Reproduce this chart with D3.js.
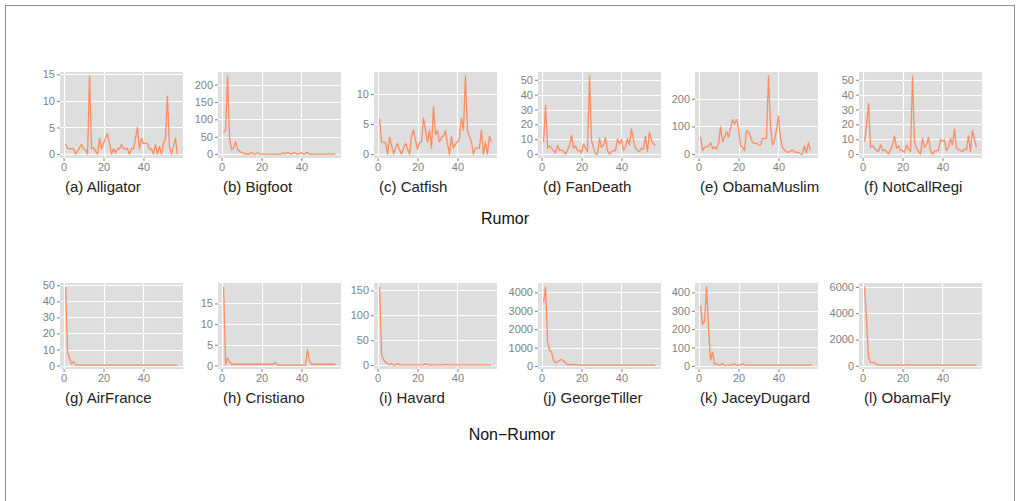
<!DOCTYPE html>
<html>
<head>
<meta charset="utf-8">
<script src="https://cdn.jsdelivr.net/npm/d3@7"></script>
<style>
  body { margin: 0; background: #fff; }
  svg { display: block; }
</style>
</head>
<body>
<svg id="chart" width="1017" height="501"></svg>
<script>
// ---- Data: daily tweet volume per story (day 1 .. n) ----
const rumorNames = ["(a) Alligator", "(b) Bigfoot", "(c) Catfish", "(d) FanDeath", "(e) ObamaMuslim", "(f) NotCallRegi"];
const nonRumorNames = ["(g) AirFrance", "(h) Cristiano", "(i) Havard", "(j) GeorgeTiller", "(k) JaceyDugard", "(l) ObamaFly"];
const groupTitles = ["Rumor", "Non\u2212Rumor"];
const xTicks = [0, 20, 40];
const rumorTickStep = [5, 50, 5, 10, 100, 10];
const nonRumorTickStep = [10, 5, 50, 1000, 100, 2000];
const dayRange = [1, 57];

const alligator = [1.9,1.1,1,1,1, 0,0.6,1.2,1.8,1, 0.8,0,14.7,1,1.2, 0.5,0,3,1,2, 3,3.8,2,0,1, 0.2,1,1,1.8,1, 1,1,0,1,1, 3,5,1,3,2, 2,2,1,1,0, 1.8,0,1.4,0,2, 3,10.9,1.5,0,1.5, 3,0];
const bigfoot = [61,69,225,45,12, 17,36,14,8,5, 3,0,1,0,5, 0,0,4,0,0, 0,0,0,0,0, 0,0,0,0,0, 4,0,5,2,0, 4,3,0,2,4, 0,2,5,0,0, 0,0,0,0,0, 0,0,0,0,0, 0,0];
const catfish = [5.9,2,2,2,0, 2.8,1.5,0,1,1.8, 0.7,0,1,1.8,0.8, 0,3,4,2.3,0.8, 2,2,6,4,2, 4,1,7.9,3.2,3.9, 2,2.8,3,3.9,1.7, 0,2.9,1,1.7,2, 2.6,6,4,13,4, 2.9,2,0,1,1, 1,4,0,2,0, 3,2];
const fanDeath = [8,33,4,5.5,4, 2.4,0.7,6,2.4,2.8, 1.7,0,2.8,6,12.7, 4,5.5,2.4,2.4,0.7, 6.8,4,1.7,52.6,9.4, 4,0,0,10.5,4.6, 6,11,2.4,0,1.7, 2.4,2.4,10.3,6.8,10, 2.4,4.6,10.3,6,17, 9.4,4,2.4,1.7,4, 3.3,12,1.7,14.8,9.4, 7,5.7];
const obamaMuslim = [61,13,25,25,30, 42,21,25,18,39, 99,45,61,81,61, 93,125,108,125,93, 30,25,13,85,81, 63,42,39,39,33, 33,57,56,57,283, 108,33,51,87,137, 57,25,15,7,7, 10,15,7,7,6, 1,0,30,4,42, 13];
const notCallRegi = [8.4,20,34,4.6,5.5, 4,2.4,1.8,6.2,2.4, 2.9,1.8,0,2.9,6.2, 12.2,4,5.5,2.4,2.4, 1.1,6.2,3.3,1.8,52.6, 8.4,4,1.8,0,10.6, 4.6,6.2,11.3,2.4,0, 1.8,2.4,2.4,10,8.4, 9.5,2.4,4.6,10.6,6.2, 16.6,4,3.3,2.4,1.8, 3.3,2.9,12.2,1.8,15.7, 10,4.6];

const airFrance = [49,8,4.6,1,2.5, 0.5,0.3,0.3,0.3,0.3, 0.3,0.3,0.3,0.3,0.3, 0.3,0.3,0.3,0.3,0.3, 0.3,0.3,0.3,0.3,0.3, 0.3,0.3,0.3,0.3,0.3, 0.3,0.3,0.3,0.3,0.3, 0.3,0.3,0.3,0.3,0.3, 0.3,0.3,0.3,0.3,0.3, 0.3,0.3,0.3,0.3,0.3, 0.3,0.3,0.3,0.3,0.3, 0.3,0.3];
const cristiano = [19,0.2,1.8,0.8,0.3, 0.3,0.3,0.3,0.3,0.3, 0.3,0.3,0.3,0.3,0.3, 0.3,0.3,0.3,0.3,0.3, 0.3,0.3,0.3,0.3,0.3, 0.3,0.7,0.1,0.1,0.1, 0.1,0.1,0.1,0.1,0.1, 0.1,0.1,0.1,0.1,0.1, 0.1,0.1,3.8,1.1,0.3, 0.3,0.3,0.3,0.3,0.3, 0.3,0.3,0.3,0.3,0.3, 0.3,0.3];
const havard = [157,21,11,5,3, 0,3,0,0,3, 0.5,0.5,0.5,0.5,0.5, 0.5,0.5,0.5,0.5,0.5, 0.5,0.5,0.5,3,0.5, 0.5,0.5,0.5,0.5,0.5, 0.5,0.5,0.5,1.5,1, 0.3,0.3,0.3,0.3,0.3, 0.3,0.3,0.3,0.3,0.3, 0.3,0.3,0.3,0.3,0.3, 0.3,0.3,0.3,0.3,0.3, 0.3,0.3];
const georgeTiller = [3450,4300,1300,870,740, 310,185,230,300,370, 270,160,75,75,80, 90,80,60,50,50, 50,50,50,50,50, 50,50,50,50,50, 50,50,50,50,50, 50,50,50,50,50, 50,50,50,50,50, 50,50,50,50,50, 50,50,50,50,50, 50,50];
const jaceyDugard = [328,226,244,430,200, 31,74,7,13,4, 4,13,4,4,4, 4,4,10,4,4, 4,13,4,4,4, 4,4,4,4,4, 4,4,4,4,4, 4,4,4,4,4, 4,4,4,4,4, 4,4,4,4,4, 4,4,4,4,4, 4,4];
const obamaFly = [6000,3300,610,255,230, 255,100,50,50,50, 50,50,50,50,50, 50,50,50,50,50, 50,100,50,50,50, 50,50,50,50,50, 50,50,50,50,50, 50,50,50,50,50, 50,50,50,50,50, 50,50,50,50,50, 50,50,50,50,50, 50,50];

const rumorSeries = [alligator, bigfoot, catfish, fanDeath, obamaMuslim, notCallRegi];
const nonRumorSeries = [airFrance, cristiano, havard, georgeTiller, jaceyDugard, obamaFly];

// ---- Layout ----
const panelRight = [183, 341, 497, 661, 818, 982];
const panelW = 123;
const panelH = 86;
const rowTop = [72, 283];
const titleBaseline = [224, 440];
const titleCenter = [505, 512];
const lineColor = "#fc8d62";
const panelFill = "#dedede";
const axisGrey = "#7f7f7f";
const textFont = "'Liberation Sans', Arial, sans-serif";

const svg = d3.select("#chart");

// outer frame
svg.append("rect")
  .attr("x", 5.5).attr("y", 5.5)
  .attr("width", 1009).attr("height", 520)
  .attr("fill", "none").attr("stroke", "#8c8c8c").attr("stroke-width", 1);

function expand([lo, hi]) {
  const pad = (hi - lo) * 0.05;
  return [lo - pad, hi + pad];
}

function drawPanel(values, name, step, col, row) {
  const left = panelRight[col] - panelW;
  const top = rowTop[row];
  const g = svg.append("g").attr("transform", `translate(${left},${top})`);

  const x = d3.scaleLinear().domain(expand(dayRange)).range([0, panelW]);
  const y = d3.scaleLinear().domain(expand([d3.min(values), d3.max(values)])).range([panelH, 0]);
  const yTicks = d3.range(0, y.domain()[1], step);

  g.append("rect").attr("width", panelW).attr("height", panelH).attr("fill", panelFill);

  // white grid
  g.selectAll(".gy").data(yTicks).join("line")
    .attr("x1", 0).attr("x2", panelW)
    .attr("y1", d => Math.round(y(d)) + 0.5).attr("y2", d => Math.round(y(d)) + 0.5)
    .attr("stroke", "#fff").attr("stroke-width", 1.1);
  g.selectAll(".gx").data(xTicks).join("line")
    .attr("y1", 0).attr("y2", panelH)
    .attr("x1", d => Math.round(x(d)) + 0.5).attr("x2", d => Math.round(x(d)) + 0.5)
    .attr("stroke", "#fff").attr("stroke-width", 1.1);

  // series line
  const line = d3.line().x((d, i) => x(i + 1)).y(d => y(d));
  g.append("path").datum(values)
    .attr("d", line)
    .attr("fill", "none")
    .attr("stroke", lineColor)
    .attr("stroke-width", 1.3)
    .attr("stroke-linejoin", "round");

  // axes
  const yAxis = d3.axisLeft(y).tickValues(yTicks).tickSize(3).tickPadding(2).tickFormat(d3.format("d"));
  const ya = g.append("g").call(yAxis);
  const xAxis = d3.axisBottom(x).tickValues(xTicks).tickSize(3).tickPadding(2).tickFormat(d3.format("d"));
  const xa = g.append("g").attr("transform", `translate(0,${panelH})`).call(xAxis);
  [ya, xa].forEach(a => {
    a.select(".domain").remove();
    a.selectAll(".tick line").attr("stroke", axisGrey);
    a.selectAll(".tick text")
      .attr("fill", axisGrey)
      .style("font-family", textFont)
      .style("font-size", "11px");
  });

  // caption
  svg.append("text")
    .attr("x", left + 5)
    .attr("y", top + panelH + 34)
    .attr("fill", "#222")
    .style("font-family", textFont)
    .style("font-size", "15px")
    .text(name);
}

rumorSeries.forEach((s, i) => drawPanel(s, rumorNames[i], rumorTickStep[i], i, 0));
nonRumorSeries.forEach((s, i) => drawPanel(s, nonRumorNames[i], nonRumorTickStep[i], i, 1));

groupTitles.forEach((t, i) => {
  svg.append("text")
    .attr("x", titleCenter[i])
    .attr("y", titleBaseline[i])
    .attr("text-anchor", "middle")
    .attr("fill", "#111")
    .style("font-family", textFont)
    .style("font-size", "16px")
    .text(t);
});
</script>
</body>
</html>
